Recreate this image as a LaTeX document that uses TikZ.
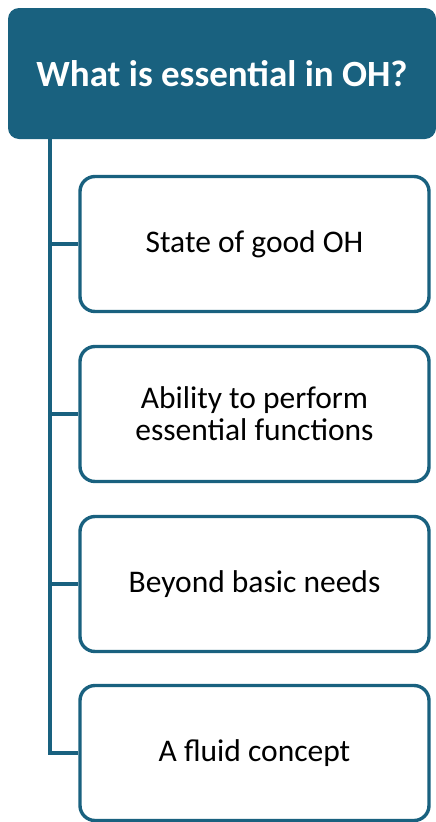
\documentclass[tikz,border=0pt]{standalone}
\usepackage{fontspec}
\setmainfont{Carlito}
\definecolor{teal}{HTML}{19617F}
\begin{document}
\begin{tikzpicture}[x=1pt,y=-1pt,
  head/.style={draw=none,fill=teal,rounded corners=11pt,text=white,font=\bfseries\fontsize{37}{44}\selectfont,align=center},
  item/.style={draw=teal,line width=3.4pt,fill=white,rounded corners=15pt,minimum width=349pt,minimum height=135pt,align=center,font=\fontsize{31.5}{32}\selectfont,inner sep=0pt},
  conn/.style={draw=teal,line width=3.6pt}]
\useasboundingbox (0,0) rectangle (436,822);
\node[head,minimum width=428pt,minimum height=131pt,inner sep=0pt] (h) at (222,73.5) {What is essential in OH?};
\node[item] (a) at (254.5,244) {State of good OH};
\node[item] (b) at (254.5,414) {Ability to perform\\essential functions};
\node[item] (c) at (254.5,584) {Beyond basic needs};
\node[item] (d) at (254.5,753) {A fluid concept};
\coordinate (top) at (50,139);
\draw[conn] (top) -- (top |- d.west) -- (d.west);
\draw[conn] (top |- a.west) -- (a.west);
\draw[conn] (top |- b.west) -- (b.west);
\draw[conn] (top |- c.west) -- (c.west);
\end{tikzpicture}
\end{document}
